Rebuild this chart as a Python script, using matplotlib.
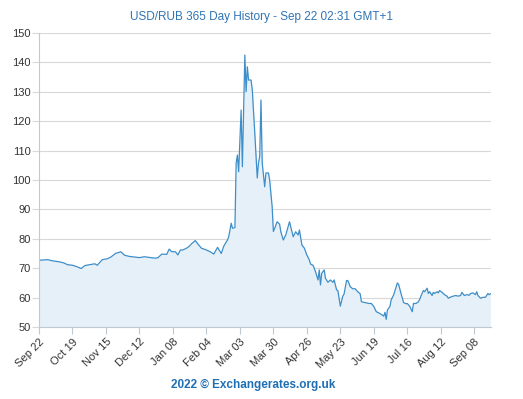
import matplotlib
matplotlib.use("Agg")
import matplotlib.pyplot as plt
import matplotlib.dates as mdates
import numpy as np
from datetime import datetime, timedelta

plt.rcParams['font.family'] = ['Liberation Sans', 'DejaVu Sans']

# USD/RUB, Sep 2021 - Sep 2022
dates = [
    "2021-09-22", "2021-09-29", "2021-10-03", "2021-10-08", "2021-10-12", "2021-10-15",
    "2021-10-19", "2021-10-22", "2021-10-26", "2021-10-29", "2021-11-02", "2021-11-06",
    "2021-11-08", "2021-11-12", "2021-11-16", "2021-11-19", "2021-11-23", "2021-11-25",
    "2021-11-27", "2021-11-30", "2021-12-04", "2021-12-08", "2021-12-12", "2021-12-16",
    "2021-12-21", "2021-12-25", "2021-12-27", "2021-12-30", "2022-01-03", "2022-01-05",
    "2022-01-07", "2022-01-10", "2022-01-12", "2022-01-14", "2022-01-16", "2022-01-19",
    "2022-01-21", "2022-01-23", "2022-01-26", "2022-01-28", "2022-01-31", "2022-02-04",
    "2022-02-07", "2022-02-10", "2022-02-13", "2022-02-16", "2022-02-18", "2022-02-21",
    "2022-02-22", "2022-02-24", "2022-02-25", "2022-02-27",
    "2022-02-28", "2022-03-01", "2022-03-02", "2022-03-04", "2022-03-05", "2022-03-07",
    "2022-03-08", "2022-03-09", "2022-03-10", "2022-03-12", "2022-03-13", "2022-03-15",
    "2022-03-17", "2022-03-18", "2022-03-19", "2022-03-20", "2022-03-21", "2022-03-23",
    "2022-03-24", "2022-03-26", "2022-03-27", "2022-03-29", "2022-03-30", "2022-03-31",
    "2022-04-02", "2022-04-04", "2022-04-05", "2022-04-07", "2022-04-09", "2022-04-12",
    "2022-04-14", "2022-04-15", "2022-04-17", "2022-04-19", "2022-04-20", "2022-04-22",
    "2022-04-24", "2022-04-26", "2022-04-28", "2022-04-29", "2022-05-01", "2022-05-03",
    "2022-05-05", "2022-05-06", "2022-05-07", "2022-05-08", "2022-05-10", "2022-05-11",
    "2022-05-13", "2022-05-15", "2022-05-17", "2022-05-18", "2022-05-20", "2022-05-21",
    "2022-05-23", "2022-05-25", "2022-05-26", "2022-05-28", "2022-05-29", "2022-05-31",
    "2022-06-02", "2022-06-04", "2022-06-06", "2022-06-08", "2022-06-09", "2022-06-12",
    "2022-06-15", "2022-06-17", "2022-06-19", "2022-06-21", "2022-06-23", "2022-06-25",
    "2022-06-27", "2022-06-28", "2022-06-29", "2022-06-30", "2022-07-02", "2022-07-03",
    "2022-07-05", "2022-07-07", "2022-07-08", "2022-07-09", "2022-07-11", "2022-07-13",
    "2022-07-15", "2022-07-16", "2022-07-18", "2022-07-20", "2022-07-21", "2022-07-23",
    "2022-07-25", "2022-07-26", "2022-07-28", "2022-07-29", "2022-07-30", "2022-08-01",
    "2022-08-02", "2022-08-03", "2022-08-05", "2022-08-06", "2022-08-07", "2022-08-09",
    "2022-08-10", "2022-08-11", "2022-08-13", "2022-08-15", "2022-08-17", "2022-08-18",
    "2022-08-20", "2022-08-22", "2022-08-24", "2022-08-26", "2022-08-28", "2022-08-29",
    "2022-08-31", "2022-09-02", "2022-09-04", "2022-09-05", "2022-09-07", "2022-09-09",
    "2022-09-10", "2022-09-11", "2022-09-13", "2022-09-15", "2022-09-17", "2022-09-19",
    "2022-09-20", "2022-09-21",
]
rates = [
    72.7, 72.9, 72.5, 72.2, 71.8, 71.2,
    71.0, 70.6, 69.9, 70.9, 71.2, 71.5,
    71.0, 72.9, 73.2, 73.8, 75.1, 75.3,
    75.6, 74.4, 74.0, 73.8, 73.6, 73.9,
    73.6, 73.4, 73.6, 74.8, 74.7, 76.5,
    75.6, 75.6, 74.5, 76.2, 76.2, 76.8,
    77.4, 78.3, 79.4, 78.3, 76.8, 76.2,
    75.6, 74.8, 77.1, 75.0, 77.5, 79.6,
    80.7, 85.3, 83.6, 83.8,
    105.8, 108.5, 102.8, 123.8, 104.5, 142.5,
    130.0, 138.5, 134.0, 134.0, 130.6, 116.0,
    100.7, 105.8, 108.0, 127.2, 105.8, 97.7,
    102.4, 102.4, 100.0, 91.0, 82.5, 83.5,
    85.8, 85.0, 82.4, 79.6, 81.3, 85.8,
    82.4, 80.7, 82.4, 81.3, 83.0, 77.9,
    76.8, 74.5, 72.8, 71.4, 71.0, 68.8,
    66.0, 69.4, 64.3, 68.3, 69.4, 66.6,
    65.2, 66.0, 65.2, 66.0, 62.6, 62.4,
    57.1, 60.5, 61.2, 65.8, 65.8, 63.7,
    63.0, 63.0, 62.0, 61.3, 58.6, 58.3,
    58.0, 58.0, 57.0, 55.2, 54.8, 54.3,
    53.7, 55.0, 52.6, 55.8, 57.0, 59.2,
    60.9, 63.7, 65.0, 64.5, 61.3, 58.3,
    57.9, 58.0, 57.0, 55.2, 58.0, 58.0,
    58.6, 59.4, 61.5, 62.4, 62.0, 63.2,
    61.4, 62.0, 60.7, 61.8, 61.4, 62.0,
    61.6, 62.4, 61.8, 61.0, 60.5, 59.8,
    60.2, 60.5, 60.7, 60.5, 60.7, 61.8,
    60.7, 61.0, 60.8, 61.4, 61.6, 61.0,
    62.0, 60.7, 59.8, 60.1, 60.1, 61.4,
    61.0, 61.3,
]

x = [datetime.strptime(d, "%Y-%m-%d") for d in dates]
start = datetime(2021, 9, 22)
ticks = [start + timedelta(days=27 * i) for i in range(14)]

line_col = "#3d8ec9"
fill_col = "#e6f0f9"
text_blue = "#2f74b5"

fig = plt.figure(figsize=(5.23, 3.99), dpi=100)
ax = fig.add_axes([39 / 523, 1 - 327 / 399, 452 / 523, 294 / 399])

ax.fill_between(x, rates, 50, color=fill_col, lw=0)
ax.plot(x, rates, color=line_col, lw=0.9)

ax.set_ylim(50, 150)
ax.set_yticks(np.arange(50, 151, 10))
ax.set_xlim(start, datetime(2021, 9, 22) + timedelta(days=364.5))
ax.set_xticks(ticks)
ax.set_xticklabels([t.strftime("%b %d") for t in ticks], rotation=45,
                   ha="right", rotation_mode="anchor", fontsize=8, color="#333333")
ax.tick_params(axis="y", labelsize=8, colors="#333333", length=5, color="#d8d8d8", pad=1)
ax.tick_params(axis="x", length=5, color="#c0c8d0", pad=2)
ax.grid(axis="y", color="#d8d8d8", lw=0.8)
ax.set_axisbelow(True)
for s in ["top", "right"]:
    ax.spines[s].set_visible(False)
ax.spines["left"].set_color("#c8c8c8")
ax.spines["bottom"].set_color("#c0c8d0")

fig.text(262 / 523, 1 - 17 / 399, "USD/RUB 365 Day History - Sep 22 02:31 GMT+1",
         ha="center", va="center", fontsize=8.5, color=text_blue)
fig.text(253 / 523, 1 - 385 / 399, "2022 © Exchangerates.org.uk",
         ha="center", va="center", fontsize=8.5, color="#1f6fb5", fontweight="bold")

fig.savefig("out.png", dpi=100)
